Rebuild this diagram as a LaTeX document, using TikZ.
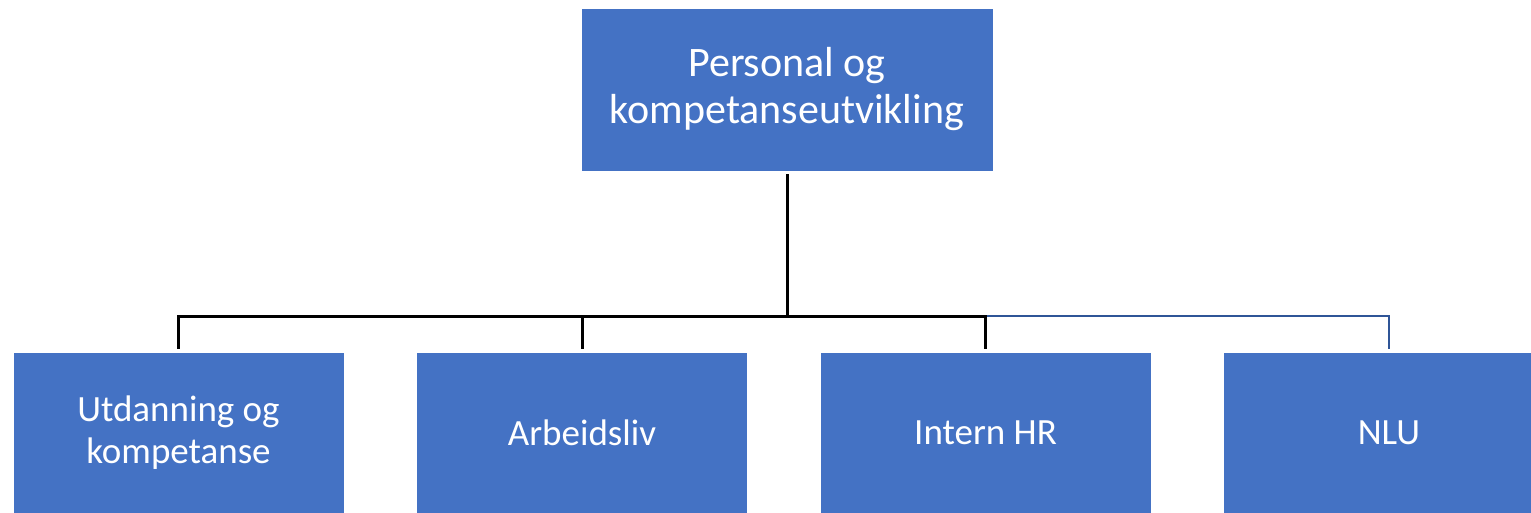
\documentclass[tikz,border=0pt]{standalone}
\usepackage{fontspec}
\setmainfont{Carlito}
\definecolor{boxblue}{HTML}{4472C4}
\definecolor{lineblue}{HTML}{2F5597}
\begin{document}
\begin{tikzpicture}[x=1pt,y=-1pt,
  orgbox/.style={fill=boxblue,draw=white,line width=0.6pt,text=white,align=center,inner sep=0pt},
  topbox/.style={orgbox,minimum width=412pt,minimum height=163pt,font=\fontsize{42}{47}\selectfont},
  subbox/.style={orgbox,minimum width=331pt,minimum height=161pt,font=\fontsize{37}{42}\selectfont},
  conn/.style={draw=black,line width=3pt},
  connb/.style={draw=lineblue,line width=2pt}]
\clip (0,0) rectangle (1531,513);
\fill[white] (0,0) rectangle (1531,513);
\node[topbox] (top) at (787,89.5) {Personal og\\kompetanseutvikling};
\node[subbox] (b1) at (178.5,432.5) {Utdanning og\\kompetanse};
\node[subbox] (b2) at (582,432.5) {Arbeidsliv};
\node[subbox] (b3) at (985.5,432.5) {Intern HR};
\node[subbox] (b4) at (1389,432.5) {NLU};
\coordinate (bus) at (787,316);
\draw[connb,shorten >=3pt] (b3.north |- bus) -| (b4.north);
\draw[conn,shorten <=3pt] (top.south) -- (bus);
\draw[conn,shorten >=3pt] (bus) -| (b1.north);
\draw[conn,shorten >=3pt] (bus) -| (b2.north);
\draw[conn,shorten >=3pt] (bus) -| (b3.north);
\end{tikzpicture}
\end{document}
